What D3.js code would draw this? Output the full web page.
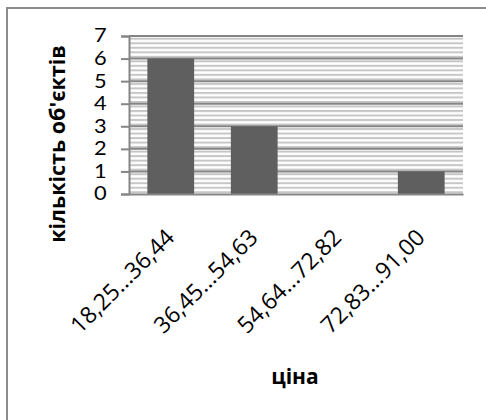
<!DOCTYPE html>
<html><head><meta charset="utf-8">
<script src="https://cdn.jsdelivr.net/npm/d3@7"></script>
<style>
html,body{margin:0;padding:0;background:#fff;}
svg{display:block;}
</style></head>
<body>
<script>
const categories = ["18,25...36,44", "36,45...54,63", "54,64...72,82", "72,83...91,00"];
const counts = [6, 3, 0, 1];
const yTicks = [0, 1, 2, 3, 4, 5, 6, 7];
const yTitle = "кількість об'єктів";
const xTitle = "ціна";

const W = 486, H = 420;
const FONT = "'Open Sans', Lato, sans-serif";
const svg = d3.select("body").append("svg").attr("width", W).attr("height", H);

// outer frame (cropped at right and bottom)
svg.append("path").attr("d", `M7,${H+5} L7,8 L${W+5},8`)
  .attr("fill", "none").attr("stroke", "#8c8c8c").attr("stroke-width", 2);

const plot = {left: 129, right: 463, top: 36, bottom: 194};
const x = d3.scaleBand().domain(categories).range([plot.left, plot.right])
  .paddingInner(0.44).paddingOuter(0.22);
const y = d3.scaleLinear().domain([0, 7]).range([plot.bottom, plot.top]);

const unit = y(0) - y(1);
const defs = svg.append("defs");
const pat = defs.append("pattern").attr("id", "stripes")
  .attr("patternUnits", "userSpaceOnUse")
  .attr("x", 0).attr("y", y(7))
  .attr("width", 8).attr("height", unit / 5);
pat.append("rect").attr("width", 8).attr("height", unit / 5).attr("fill", "#fff");
pat.append("rect").attr("y", unit / 10 - 0.5).attr("width", 8).attr("height", 2).attr("fill", "#c6c6c6");

svg.append("rect").attr("x", plot.left).attr("y", plot.top)
  .attr("width", plot.right - plot.left).attr("height", plot.bottom - plot.top)
  .attr("fill", "url(#stripes)");

// gridlines
svg.append("g").selectAll("line").data(yTicks.filter(d => d > 0)).join("line")
  .attr("x1", plot.left).attr("x2", plot.right)
  .attr("y1", d => y(d)).attr("y2", d => y(d))
  .attr("stroke", "#858585").attr("stroke-width", 2);

// bars
svg.append("g").selectAll("rect").data(categories).join("rect")
  .attr("x", d => x(d)).attr("width", x.bandwidth())
  .attr("y", (d, i) => y(counts[i])).attr("height", (d, i) => y(0) - y(counts[i]))
  .attr("fill", "#5f5f5f");

// y axis
const yAxis = svg.append("g").attr("transform", `translate(${plot.left},0)`)
  .call(d3.axisLeft(y).tickValues(yTicks).tickSize(8).tickPadding(11).tickFormat(d3.format("d")));
yAxis.select(".domain").attr("stroke", "#858585").attr("stroke-width", 2);
yAxis.selectAll(".tick line").attr("stroke", "#858585").attr("stroke-width", 2);
yAxis.selectAll(".tick text").style("font-size", "18.5px").style("font-family", "Lato, sans-serif")
  .attr("fill", "#000").attr("transform", "scale(1.18,1)");

// x axis
const xAxis = svg.append("g").attr("transform", `translate(0,${plot.bottom})`)
  .call(d3.axisBottom(x).tickSize(0).tickPadding(0));
xAxis.select(".domain").attr("stroke", "#858585").attr("stroke-width", 2);
xAxis.selectAll(".tick text")
  .style("font-size", "23px").style("font-family", FONT).attr("fill", "#000")
  .attr("text-anchor", "end").attr("dy", 0).attr("y", 0)
  .attr("transform", "translate(5,45) rotate(-45)");

// titles
svg.append("text").attr("transform", `translate(65,144) rotate(-90)`)
  .attr("text-anchor", "middle")
  .style("font-weight", "bold").style("font-size", "21.5px").style("font-family", FONT)
  .text(yTitle);
svg.append("text").attr("x", 295).attr("y", 384)
  .attr("text-anchor", "middle")
  .style("font-weight", "bold").style("font-size", "21px").style("font-family", FONT)
  .text(xTitle);
</script>
</body></html>
